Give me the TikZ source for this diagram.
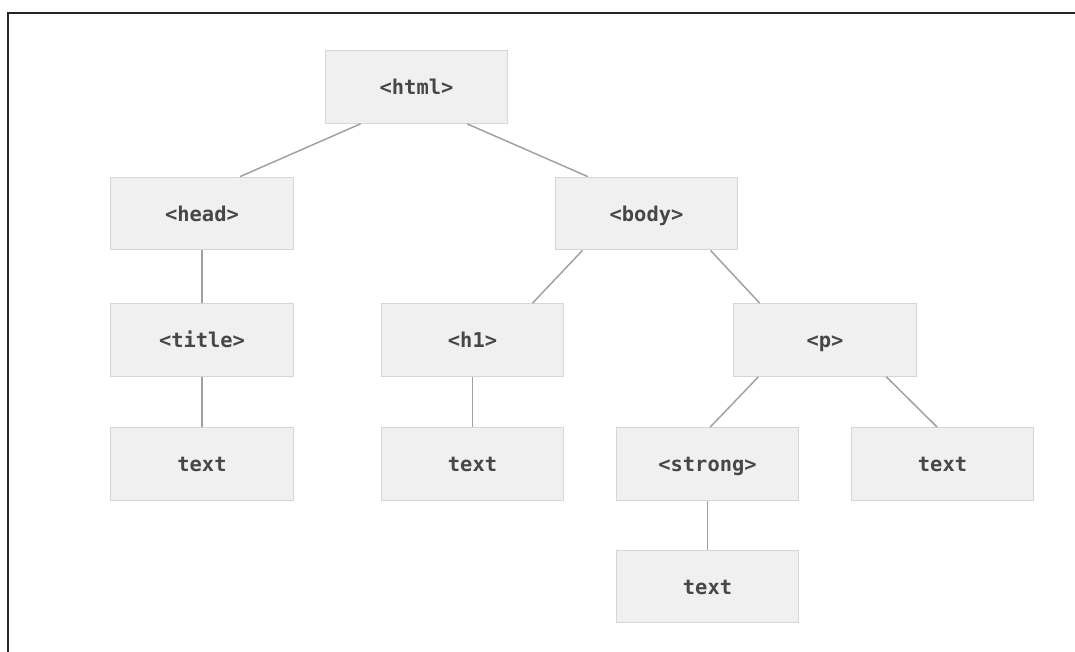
\documentclass[tikz,border=0pt]{standalone}
\usepackage{fontspec}
\setmonofont{DejaVu Sans Mono}
\usepackage[svgnames,table]{xcolor}
\definecolor{boxfill}{HTML}{F0F0F0}
\definecolor{boxline}{HTML}{D6D6D6}
\definecolor{linkline}{HTML}{A0A0A0}
\definecolor{tagtext}{HTML}{474747}

\begin{document}
\begin{tikzpicture}[x=0.75pt, y=-0.75pt, font=\ttfamily\bfseries\fontsize{15.3}{17}\selectfont,
        tag/.style={draw=boxline, fill=boxfill, text=tagtext, line width=0.8pt, minimum width=137pt, minimum height=54.5pt, inner sep=0pt, text height=11.5pt, text depth=0pt},
        link/.style={draw=linkline, line width=1.1pt}]
        \useasboundingbox (0,0) rectangle (1075,652);
        \draw[line width=1.6pt, color=black!85] (8,652) -- (8,13) -- (1075,13);
        \node[tag] (html) at (416.5,87) {<html>};
        \node[tag] (head) at (202,213.5) {<head>};
        \node[tag] (body) at (646.5,213.5) {<body>};
        \node[tag] (title) at (202,340) {<title>};
        \node[tag] (h1) at (472.5,340) {<h1>};
        \node[tag] (p) at (825,340) {<p>};
        \node[tag] (t1) at (202,464) {text};
        \node[tag] (t2) at (472.5,464) {text};
        \node[tag] (strong) at (707.5,464) {<strong>};
        \node[tag] (t3) at (942.5,464) {text};
        \node[tag] (t4) at (707.5,586.5) {text};
        \draw[link] ([xshift=-42pt]html.south) -- ([xshift=28.5pt]head.north);
        \draw[link] ([xshift=38pt]html.south) -- ([xshift=-44pt]body.north);
        \draw[link] (head) -- (title);
        \draw[link] (title) -- (t1);
        \draw[link] ([xshift=-48pt]body.south) -- ([xshift=45pt]h1.north);
        \draw[link] ([xshift=48pt]body.south) -- ([xshift=-49pt]p.north);
        \draw[link] (h1) -- (t2);
        \draw[link] ([xshift=-50pt]p.south) -- ([xshift=2pt]strong.north);
        \draw[link] ([xshift=46pt]p.south) -- ([xshift=-4pt]t3.north);
        \draw[link] (strong) -- (t4);
    \end{tikzpicture}
\end{document}
